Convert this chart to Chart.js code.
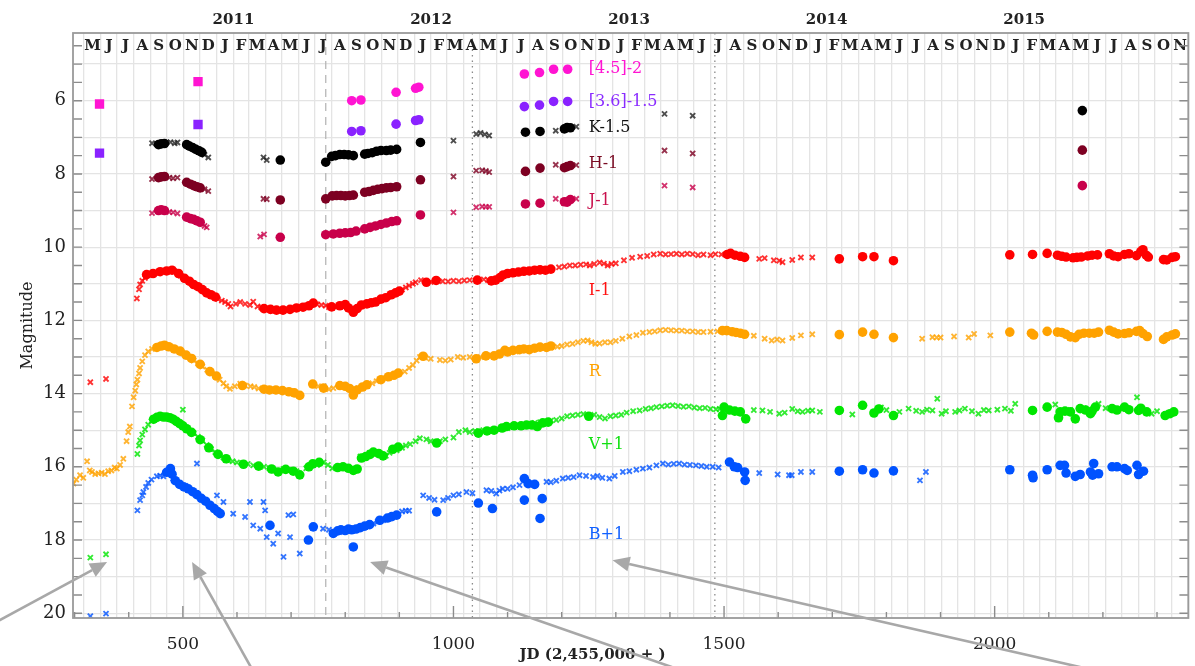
<!DOCTYPE html>
<html>
<head>
<meta charset="utf-8">
<script src="https://cdn.jsdelivr.net/npm/chart.js@4.4.1/dist/chart.umd.min.js"></script>
<style>
  html, body { margin: 0; background: #fff; }
  #wrap { width: 1195px; height: 666px; }
</style>
</head>
<body>
<div id="wrap"><canvas id="lc"></canvas></div>
<script>
// axis ranges (JD - 2,455,000 and magnitude)
const xMin = 297, xMax = 2358;
const yMin = 4.15, yMax = 20.13;
const xTickValues = [500, 1000, 1500, 2000];
const yTickLabels = [6, 8, 10, 12, 14, 16, 18, 20];
const yGridValues = [5, 6, 7, 8, 9, 10, 11, 12, 13, 14, 15, 16, 17, 18, 19, 20];
const monthLetters = ['J', 'F', 'M', 'A', 'M', 'J', 'J', 'A', 'S', 'O', 'N', 'D'];
const yearLabels = [2011, 2012, 2013, 2014, 2015];
const dashedLines = [764];
const dottedLines = [1035, 1483];

// Spitzer
const ch2Squares = [[346, 6.09], [528, 5.48]];
const ch2Dots = [[812, 6.0], [829, 5.98], [894, 5.77], [930, 5.66], [936, 5.63], [1131, 5.27], [1159, 5.23], [1185, 5.14], [1211, 5.14]];
const ch1Squares = [[346, 7.43], [528, 6.65]];
const ch1Dots = [[812, 6.84], [829, 6.82], [894, 6.64], [930, 6.54], [936, 6.52], [1131, 6.16], [1159, 6.12], [1185, 6.02], [1211, 6.02]];

// near-IR
const kCross = [[443, 7.16], [452, 7.18], [470, 7.14], [477, 7.13], [485, 7.16], [490, 7.14], [540, 7.48], [547, 7.55], [649, 7.55], [655, 7.62],
  [1000, 7.09], [1042, 6.91], [1050, 6.88], [1058, 6.92], [1066, 6.95], [1189, 6.82], [1227, 6.71], [1390, 6.36], [1442, 6.41]];
const kDots = [[455, 7.2], [460, 7.18], [466, 7.17], [507, 7.2], [512, 7.24], [518, 7.28], [524, 7.33], [530, 7.37], [535, 7.41], [680, 7.62],
  [764, 7.68], [775, 7.52], [782, 7.5], [790, 7.47], [798, 7.47], [806, 7.48], [815, 7.5], [836, 7.46], [842, 7.44], [850, 7.42], [858, 7.38],
  [866, 7.36], [876, 7.36], [884, 7.35], [895, 7.33], [939, 7.14], [1133, 6.86], [1160, 6.84], [1205, 6.77], [1210, 6.73], [1216, 6.74], [2162, 6.27]];
const hCross = [[443, 8.14], [475, 8.1], [482, 8.12], [490, 8.1], [540, 8.42], [547, 8.47], [649, 8.68], [655, 8.69],
  [1000, 8.07], [1042, 7.91], [1053, 7.9], [1060, 7.92], [1066, 7.95], [1189, 7.75], [1227, 7.76], [1390, 7.36], [1442, 7.44]];
const hDots = [[455, 8.1], [460, 8.08], [466, 8.07], [507, 8.23], [514, 8.28], [520, 8.32], [526, 8.35], [532, 8.38], [680, 8.71],
  [764, 8.68], [776, 8.6], [784, 8.59], [792, 8.59], [800, 8.6], [808, 8.59], [815, 8.58], [836, 8.5], [844, 8.48], [852, 8.45], [860, 8.42],
  [868, 8.4], [876, 8.38], [884, 8.37], [895, 8.35], [939, 8.16], [1133, 7.93], [1160, 7.84], [1205, 7.83], [1210, 7.8], [1216, 7.77], [2162, 7.35]];
const jCross = [[443, 9.07], [475, 9.04], [482, 9.05], [490, 9.08], [540, 9.42], [544, 9.46], [643, 9.71], [650, 9.65],
  [1000, 9.05], [1042, 8.91], [1053, 8.89], [1060, 8.9], [1066, 8.9], [1189, 8.68], [1227, 8.68], [1390, 8.32], [1442, 8.37]];
const jDots = [[455, 9.0], [460, 8.98], [466, 9.0], [507, 9.18], [514, 9.22], [520, 9.24], [526, 9.28], [532, 9.32], [680, 9.73],
  [764, 9.66], [778, 9.64], [790, 9.62], [800, 9.61], [810, 9.6], [820, 9.56], [836, 9.5], [846, 9.46], [856, 9.42], [866, 9.38],
  [876, 9.34], [886, 9.3], [895, 9.28], [939, 9.12], [1133, 8.82], [1160, 8.8], [1205, 8.76], [1210, 8.77], [1216, 8.7], [2162, 8.32]];

// optical
const iCross = [[329, 13.69], [358, 13.6], [415, 11.4], [419, 11.15], [421, 11.02], [425, 10.92], [430, 10.84], [438, 10.76], [450, 10.7],
  [462, 10.66], [475, 10.62], [485, 10.66], [496, 10.78], [506, 10.9], [516, 11.0], [525, 11.08], [540, 11.2], [548, 11.28], [556, 11.34],
  [565, 11.42], [572, 11.46], [578, 11.5], [584, 11.55], [588, 11.62], [598, 11.55], [606, 11.5], [615, 11.55], [624, 11.58], [630, 11.49],
  [638, 11.62], [645, 11.65], [655, 11.7], [668, 11.73], [680, 11.71], [692, 11.68], [705, 11.67], [716, 11.65], [728, 11.6], [748, 11.56],
  [756, 11.58], [764, 11.6], [770, 11.64], [782, 11.62], [796, 11.6], [835, 11.56], [860, 11.45], [870, 11.42], [880, 11.35], [905, 11.16],
  [912, 11.1], [918, 11.05], [925, 11.0], [930, 10.96], [940, 10.9], [958, 10.95], [980, 10.93], [990, 10.94], [1000, 10.92], [1010, 10.93],
  [1020, 10.91], [1030, 10.9], [1056, 10.88], [1064, 10.9], [1105, 10.74], [1195, 10.55], [1205, 10.53], [1215, 10.5], [1225, 10.5],
  [1235, 10.48], [1245, 10.47], [1252, 10.5], [1260, 10.46], [1270, 10.42], [1278, 10.45], [1285, 10.5], [1292, 10.46], [1300, 10.44],
  [1315, 10.36], [1330, 10.29], [1345, 10.26], [1358, 10.24], [1370, 10.2], [1382, 10.18], [1392, 10.2], [1402, 10.19], [1412, 10.18],
  [1422, 10.2], [1432, 10.18], [1442, 10.19], [1452, 10.22], [1462, 10.2], [1475, 10.22], [1484, 10.19], [1495, 10.2], [1565, 10.32],
  [1575, 10.3], [1592, 10.36], [1602, 10.37], [1608, 10.41], [1626, 10.35], [1642, 10.28], [1663, 10.28]];
const iDots = [[433, 10.75], [445, 10.72], [458, 10.67], [470, 10.65], [480, 10.63], [492, 10.72], [503, 10.85], [512, 10.93], [520, 11.02],
  [528, 11.08], [536, 11.16], [544, 11.25], [552, 11.3], [560, 11.36], [650, 11.68], [662, 11.7], [673, 11.72], [685, 11.72], [698, 11.7],
  [710, 11.66], [722, 11.64], [733, 11.6], [741, 11.53], [775, 11.63], [790, 11.6], [800, 11.57], [806, 11.66], [815, 11.78], [822, 11.68],
  [830, 11.58], [840, 11.55], [848, 11.52], [856, 11.5], [866, 11.42], [875, 11.38], [885, 11.3], [893, 11.25], [900, 11.2], [950, 10.96],
  [968, 10.91], [1044, 10.9], [1070, 10.92], [1078, 10.9], [1086, 10.83], [1092, 10.76], [1100, 10.72], [1110, 10.7], [1120, 10.68],
  [1130, 10.66], [1140, 10.65], [1150, 10.63], [1160, 10.62], [1170, 10.63], [1180, 10.6], [1506, 10.2], [1512, 10.17], [1520, 10.22],
  [1530, 10.25], [1538, 10.28], [1713, 10.32], [1756, 10.26], [1777, 10.26], [1813, 10.37], [2028, 10.21], [2070, 10.2], [2097, 10.17],
  [2116, 10.22], [2124, 10.25], [2132, 10.27], [2145, 10.29], [2152, 10.28], [2160, 10.27], [2172, 10.24], [2180, 10.22], [2190, 10.21],
  [2212, 10.18], [2220, 10.24], [2228, 10.26], [2240, 10.2], [2248, 10.18], [2262, 10.23], [2270, 10.12], [2274, 10.07], [2280, 10.22],
  [2284, 10.27], [2312, 10.34], [2318, 10.35], [2328, 10.28], [2334, 10.26]];

const rCross = [[298, 16.46], [303, 16.35], [310, 16.23], [316, 16.3], [323, 15.85], [328, 16.1], [332, 16.14], [338, 16.2], [344, 16.18],
  [350, 16.16], [356, 16.2], [362, 16.12], [368, 16.1], [374, 16.02], [378, 16.05], [384, 15.95], [390, 15.78], [396, 15.3], [399, 15.05],
  [402, 14.9], [406, 14.35], [409, 14.1], [412, 13.92], [414, 13.75], [416, 13.62], [419, 13.45], [421, 13.3], [425, 13.12], [430, 12.95],
  [436, 12.85], [443, 12.78], [452, 12.74], [470, 12.7], [478, 12.73], [490, 12.82], [500, 12.9], [512, 13.0], [520, 13.1], [528, 13.18],
  [536, 13.26], [545, 13.35], [553, 13.44], [560, 13.52], [568, 13.62], [575, 13.72], [580, 13.8], [587, 13.87], [596, 13.8], [606, 13.73],
  [615, 13.78], [625, 13.8], [632, 13.82], [640, 13.86], [700, 13.93], [750, 13.8], [770, 13.88], [778, 13.85], [824, 13.85], [850, 13.72],
  [858, 13.66], [875, 13.58], [910, 13.4], [918, 13.3], [925, 13.22], [932, 13.1], [938, 13.0], [948, 13.02], [958, 13.05], [975, 13.08],
  [985, 13.1], [995, 13.07], [1008, 13.0], [1018, 13.02], [1030, 13.0], [1040, 13.05], [1050, 13.0], [1060, 12.98], [1070, 12.96],
  [1115, 12.85], [1150, 12.78], [1180, 12.74], [1192, 12.72], [1200, 12.7], [1210, 12.66], [1220, 12.64], [1230, 12.6], [1240, 12.56],
  [1248, 12.55], [1255, 12.6], [1262, 12.64], [1270, 12.63], [1280, 12.6], [1290, 12.6], [1300, 12.56], [1312, 12.5], [1325, 12.44],
  [1338, 12.4], [1350, 12.34], [1362, 12.32], [1372, 12.3], [1382, 12.27], [1392, 12.26], [1402, 12.27], [1412, 12.28], [1422, 12.28],
  [1432, 12.3], [1442, 12.3], [1452, 12.32], [1462, 12.32], [1475, 12.31], [1488, 12.3], [1555, 12.42], [1575, 12.5], [1588, 12.55],
  [1598, 12.52], [1608, 12.55], [1626, 12.48], [1642, 12.41], [1663, 12.38], [1866, 12.5], [1885, 12.46], [1893, 12.47], [1900, 12.47],
  [1925, 12.44], [1952, 12.47], [1962, 12.37], [1992, 12.41]];
const rDots = [[452, 12.74], [460, 12.7], [466, 12.68], [474, 12.72], [484, 12.78], [495, 12.84], [506, 12.95], [516, 13.04], [532, 13.2],
  [550, 13.4], [562, 13.52], [610, 13.78], [650, 13.88], [660, 13.9], [672, 13.9], [684, 13.92], [696, 13.95], [706, 13.98], [716, 14.05],
  [740, 13.74], [760, 13.85], [790, 13.78], [800, 13.8], [808, 13.86], [815, 14.04], [822, 13.9], [832, 13.82], [840, 13.76], [866, 13.62],
  [880, 13.54], [890, 13.5], [898, 13.44], [944, 12.98], [1042, 13.05], [1060, 12.97], [1075, 12.97], [1085, 12.92], [1095, 12.82],
  [1100, 12.86], [1110, 12.82], [1122, 12.8], [1130, 12.78], [1140, 12.8], [1150, 12.76], [1160, 12.73], [1172, 12.74], [1180, 12.7],
  [1497, 12.28], [1505, 12.28], [1515, 12.31], [1522, 12.33], [1530, 12.35], [1538, 12.38], [1713, 12.39], [1756, 12.32], [1777, 12.38],
  [1813, 12.47], [2028, 12.32], [2068, 12.35], [2072, 12.4], [2097, 12.3], [2116, 12.32], [2124, 12.33], [2132, 12.38], [2140, 12.45],
  [2149, 12.47], [2156, 12.38], [2165, 12.35], [2175, 12.35], [2184, 12.35], [2192, 12.32], [2212, 12.27], [2220, 12.32], [2228, 12.37],
  [2240, 12.36], [2248, 12.34], [2262, 12.3], [2268, 12.28], [2274, 12.36], [2282, 12.44], [2312, 12.52], [2318, 12.45], [2328, 12.4],
  [2334, 12.37]];

const vCross = [[329, 18.48], [358, 18.39], [416, 15.65], [419, 15.42], [421, 15.28], [425, 15.12], [430, 14.98], [436, 14.85], [442, 14.75],
  [500, 14.44], [505, 14.95], [512, 15.02], [520, 15.08], [528, 15.18], [536, 15.28], [544, 15.4], [552, 15.52], [560, 15.6], [568, 15.68],
  [575, 15.75], [584, 15.82], [592, 15.85], [600, 15.88], [610, 15.9], [620, 15.92], [630, 15.96], [640, 15.98], [650, 16.0], [660, 16.04],
  [668, 16.1], [676, 16.12], [686, 16.06], [696, 16.08], [710, 16.12], [728, 16.04], [748, 15.95], [760, 15.88], [768, 15.95], [776, 16.04],
  [790, 16.0], [800, 16.02], [828, 15.72], [845, 15.62], [858, 15.62], [875, 15.7], [882, 15.62], [895, 15.55], [905, 15.48], [912, 15.42],
  [920, 15.38], [930, 15.3], [938, 15.22], [950, 15.25], [958, 15.3], [975, 15.3], [985, 15.25], [1000, 15.2], [1010, 15.05], [1022, 15.0],
  [1030, 15.05], [1040, 15.02], [1055, 15.0], [1065, 15.02], [1080, 14.97], [1090, 14.92], [1100, 14.94], [1110, 14.9], [1120, 14.86],
  [1130, 14.88], [1140, 14.84], [1150, 14.8], [1160, 14.78], [1170, 14.8], [1180, 14.74], [1190, 14.72], [1200, 14.68], [1210, 14.62],
  [1220, 14.6], [1230, 14.58], [1240, 14.56], [1250, 14.6], [1260, 14.58], [1270, 14.64], [1280, 14.68], [1290, 14.62], [1300, 14.6],
  [1310, 14.58], [1320, 14.52], [1332, 14.48], [1344, 14.46], [1355, 14.42], [1365, 14.4], [1375, 14.37], [1385, 14.35], [1395, 14.33],
  [1405, 14.32], [1415, 14.34], [1425, 14.36], [1435, 14.35], [1445, 14.38], [1455, 14.4], [1465, 14.39], [1475, 14.42], [1485, 14.43],
  [1492, 14.42], [1555, 14.45], [1571, 14.46], [1585, 14.5], [1602, 14.55], [1612, 14.52], [1626, 14.42], [1636, 14.48], [1645, 14.5],
  [1655, 14.47], [1663, 14.46], [1677, 14.5], [1737, 14.57], [1790, 14.38], [1800, 14.45], [1824, 14.5], [1841, 14.41], [1855, 14.47],
  [1866, 14.5], [1875, 14.44], [1885, 14.46], [1894, 14.14], [1902, 14.55], [1910, 14.48], [1927, 14.5], [1935, 14.46], [1945, 14.41],
  [1958, 14.48], [1970, 14.55], [1980, 14.45], [1989, 14.46], [2005, 14.44], [2019, 14.41], [2030, 14.47], [2038, 14.28], [2112, 14.3],
  [2140, 14.45], [2165, 14.4], [2192, 14.28], [2205, 14.4], [2235, 14.42], [2263, 14.1], [2290, 14.55], [2300, 14.48], [2322, 14.52]];
const vDots = [[446, 14.7], [452, 14.65], [458, 14.62], [464, 14.64], [470, 14.64], [476, 14.66], [482, 14.7], [488, 14.76], [494, 14.82],
  [500, 14.88], [507, 14.96], [516, 15.06], [532, 15.26], [548, 15.48], [565, 15.66], [580, 15.78], [612, 15.93], [640, 15.98], [664, 16.06],
  [676, 16.14], [690, 16.07], [704, 16.12], [716, 16.22], [733, 16.0], [740, 15.92], [752, 15.88], [786, 16.02], [796, 16.0], [806, 16.04],
  [815, 16.1], [822, 16.06], [830, 15.76], [838, 15.72], [846, 15.66], [852, 15.6], [862, 15.64], [870, 15.7], [888, 15.52], [898, 15.46],
  [969, 15.35], [1046, 15.08], [1062, 15.02], [1075, 15.0], [1090, 14.94], [1098, 14.9], [1112, 14.88], [1125, 14.88], [1135, 14.86],
  [1145, 14.86], [1155, 14.9], [1165, 14.8], [1175, 14.78], [1250, 14.62], [1497, 14.6], [1500, 14.37], [1510, 14.45], [1520, 14.48],
  [1530, 14.5], [1540, 14.69], [1713, 14.46], [1756, 14.32], [1777, 14.53], [1786, 14.42], [1813, 14.6], [2070, 14.46], [2097, 14.37],
  [2118, 14.66], [2121, 14.5], [2130, 14.48], [2140, 14.5], [2149, 14.69], [2158, 14.41], [2168, 14.45], [2177, 14.55], [2180, 14.48],
  [2186, 14.37], [2217, 14.41], [2226, 14.45], [2240, 14.37], [2248, 14.44], [2266, 14.46], [2270, 14.4], [2281, 14.5], [2315, 14.6],
  [2324, 14.55], [2331, 14.5]];

const bCross = [[329, 20.08], [358, 20.01], [416, 17.19], [421, 16.91], [425, 16.78], [427, 16.69], [432, 16.55], [436, 16.44], [442, 16.35],
  [452, 16.26], [458, 16.24], [464, 16.26], [482, 16.32], [488, 16.4], [495, 16.46], [500, 16.5], [505, 16.52], [526, 15.91], [544, 16.95],
  [563, 16.78], [575, 16.96], [593, 17.28], [615, 17.37], [624, 16.96], [630, 17.6], [643, 17.69], [649, 16.96], [652, 17.19], [655, 17.92],
  [667, 18.1], [676, 17.82], [686, 18.46], [695, 17.32], [704, 17.3], [698, 17.92], [716, 18.37], [759, 17.69], [770, 17.72], [796, 17.78],
  [827, 17.64], [838, 17.6], [852, 17.55], [860, 17.5], [870, 17.46], [880, 17.42], [905, 17.22], [912, 17.2], [918, 17.2], [944, 16.78],
  [955, 16.85], [965, 16.9], [981, 16.91], [990, 16.85], [1000, 16.78], [1010, 16.75], [1024, 16.69], [1035, 16.72], [1061, 16.64],
  [1070, 16.66], [1079, 16.73], [1085, 16.65], [1091, 16.6], [1100, 16.6], [1110, 16.56], [1122, 16.5], [1140, 16.48], [1147, 16.46],
  [1172, 16.41], [1180, 16.42], [1190, 16.38], [1202, 16.32], [1212, 16.3], [1222, 16.28], [1233, 16.23], [1245, 16.25], [1258, 16.28],
  [1266, 16.25], [1275, 16.3], [1288, 16.32], [1298, 16.25], [1313, 16.14], [1325, 16.12], [1338, 16.08], [1350, 16.05], [1362, 16.02],
  [1375, 15.96], [1387, 15.91], [1397, 15.94], [1407, 15.92], [1417, 15.91], [1427, 15.94], [1437, 15.95], [1448, 15.96], [1458, 15.98],
  [1468, 16.0], [1479, 16.0], [1490, 16.02], [1565, 16.17], [1599, 16.21], [1620, 16.23], [1625, 16.23], [1642, 16.14], [1663, 16.14],
  [1862, 16.37], [1873, 16.14]];
const bDots = [[470, 16.15], [477, 16.05], [480, 16.2], [486, 16.38], [494, 16.48], [502, 16.55], [510, 16.6], [518, 16.68], [526, 16.76],
  [534, 16.86], [542, 16.94], [550, 17.05], [558, 17.14], [564, 17.22], [569, 17.28], [661, 17.6], [732, 18.0], [741, 17.64], [778, 17.82],
  [786, 17.75], [792, 17.72], [800, 17.74], [806, 17.7], [812, 17.72], [815, 18.19], [820, 17.7], [828, 17.66], [836, 17.62], [845, 17.58],
  [864, 17.46], [878, 17.4], [886, 17.36], [895, 17.32], [969, 17.23], [1046, 16.99], [1072, 17.14], [1131, 16.32], [1131, 16.91],
  [1138, 16.46], [1150, 16.48], [1160, 17.41], [1164, 16.87], [1510, 15.87], [1519, 16.0], [1525, 16.02], [1538, 16.14], [1539, 16.37],
  [1713, 16.12], [1756, 16.08], [1777, 16.17], [1813, 16.11], [2028, 16.08], [2070, 16.23], [2071, 16.3], [2097, 16.08], [2121, 15.96],
  [2129, 15.96], [2132, 16.17], [2149, 16.26], [2158, 16.21], [2177, 16.14], [2181, 16.23], [2183, 15.91], [2192, 16.19], [2217, 16.0],
  [2226, 16.0], [2240, 16.05], [2245, 16.1], [2263, 15.96], [2266, 16.21], [2275, 16.12]];

// band labels: text, JD, mag, colour
const bandLabels = [
  ['[4.5]-2', 1250, 5.14, '#ff14d2'],
  ['[3.6]-1.5', 1250, 6.02, '#8a2cff'],
  ['K-1.5', 1250, 6.73, '#111111'],
  ['H-1', 1250, 7.73, '#7a0a22'],
  ['J-1', 1250, 8.73, '#c8104c'],
  ['I-1', 1250, 11.18, '#ff1010'],
  ['R', 1250, 13.41, '#ffa200'],
  ['V+1', 1250, 15.41, '#10e010'],
  ['B+1', 1250, 17.87, '#1060ff']
];

// arrows: head and tail in data units
const arrowHeads = [[360, 18.6], [517, 18.6], [846, 18.6], [1294, 18.55]];
const arrowTails = [[108, 20.62], [643, 21.93], [1491, 21.92], [2285, 21.9]];

const COL = {
  ch2: '#ff14d2', ch1: '#8a22ff', k: '#000000', h: '#7d0022', j: '#c8004a',
  i: '#ff0000', r: '#ffa200', v: '#00e600', b: '#0052ff'
};

// JD - 2,455,000 for a calendar date (JD 2455000 = 2009-06-17 12h UT)
const jdOf = (y, m, d) => (Date.UTC(y, m, d) - Date.UTC(2009, 5, 17, 12)) / 864e5;
const monthStarts = [];
const monthMids = [];
for (let y = 2010; y <= 2015; y++) {
  for (let m = 0; m < 12; m++) {
    const a = jdOf(y, m, 1), b = jdOf(y, m + 1, 1);
    if (a > xMin && a < xMax) monthStarts.push(a);
    if ((a + b) / 2 > xMin + 10 && (a + b) / 2 < xMax) monthMids.push([(a + b) / 2, monthLetters[m]]);
  }
}

const pts = (arr) => arr.map(([x, y]) => ({ x, y }));
function alpha(hex, a) {
  const n = parseInt(hex.slice(1), 16);
  return `rgba(${n >> 16},${(n >> 8) & 255},${n & 255},${a})`;
}
const crosses = (arr, c) => ({ data: pts(arr), pointStyle: 'crossRot', pointRadius: 3.6, borderWidth: 1.9, borderColor: alpha(c, 0.8), backgroundColor: 'transparent' });
const dots = (arr, c, r = 4.8) => ({ data: pts(arr), pointStyle: 'circle', pointRadius: r, borderWidth: 0, backgroundColor: c });
const squares = (arr, c) => ({ data: pts(arr), pointStyle: 'rect', pointRadius: 6.6, borderWidth: 0, backgroundColor: c });

const overlay = {
  id: 'overlay',
  beforeDatasetsDraw(chart) {
    const { ctx, chartArea: a, scales: { x } } = chart;
    ctx.save();
    ctx.lineWidth = 1.3;
    ctx.strokeStyle = '#b8b8b8';
    ctx.setLineDash([8, 6]);
    dashedLines.forEach((v) => {
      const px = x.getPixelForValue(v);
      ctx.beginPath(); ctx.moveTo(px, a.top); ctx.lineTo(px, a.bottom); ctx.stroke();
    });
    ctx.strokeStyle = '#8a8a8a';
    ctx.setLineDash([1.5, 4]);
    dottedLines.forEach((v) => {
      const px = x.getPixelForValue(v);
      ctx.beginPath(); ctx.moveTo(px, a.top); ctx.lineTo(px, a.bottom); ctx.stroke();
    });
    ctx.restore();
  },
  afterDatasetsDraw(chart) {
    const { ctx, chartArea: a, scales: { x, y } } = chart;
    ctx.save();
    ctx.textBaseline = 'middle';
    ctx.font = '16px "DejaVu Serif"';
    ctx.textAlign = 'left';
    bandLabels.forEach(([t, jd, mag, c]) => {
      ctx.fillStyle = c;
      ctx.fillText(t, x.getPixelForValue(jd), y.getPixelForValue(mag));
    });
    ctx.font = 'bold 15px "DejaVu Serif"';
    ctx.textAlign = 'center';
    ctx.fillStyle = '#222';
    monthMids.forEach(([jd, t]) => ctx.fillText(t, x.getPixelForValue(jd), a.top + 13));
    ctx.restore();
  },
  afterDraw(chart) {
    const { ctx, chartArea: a, scales: { x, y } } = chart;
    ctx.save();
    // inward ticks
    ctx.strokeStyle = '#8c8c8c';
    ctx.lineWidth = 1.4;
    ctx.beginPath();
    for (let v = 4.5; v <= 20; v += 0.5) {
      const py = y.getPixelForValue(v);
      ctx.moveTo(a.left, py); ctx.lineTo(a.left + 9, py);
      ctx.moveTo(a.right, py); ctx.lineTo(a.right - 9, py);
    }
    for (let v = 300; v <= 2300; v += 100) {
      const px = x.getPixelForValue(v);
      const len = v % 500 === 0 ? 12 : 6;
      ctx.moveTo(px, a.bottom); ctx.lineTo(px, a.bottom - len);
    }
    ctx.stroke();
    // frame
    ctx.strokeStyle = '#9a9a9a';
    ctx.lineWidth = 1.8;
    ctx.strokeRect(a.left, a.top, a.right - a.left, a.bottom - a.top);
    // years
    ctx.fillStyle = '#222';
    ctx.font = 'bold 15px "DejaVu Serif"';
    ctx.textAlign = 'center';
    ctx.textBaseline = 'middle';
    yearLabels.forEach((yr) => ctx.fillText(String(yr), x.getPixelForValue(jdOf(yr, 1, 1)), a.top - 13));
    // x title
    ctx.font = 'bold 15px "DejaVu Serif"';
    ctx.fillText('JD (2,455,000 + )', x.getPixelForValue(1257), chart.height - 11);
    // arrows
    ctx.strokeStyle = '#a8a8a8';
    ctx.fillStyle = '#a8a8a8';
    ctx.lineWidth = 2.6;
    arrowHeads.forEach(([hx, hy], k) => {
      const [tx, ty] = arrowTails[k];
      const x1 = x.getPixelForValue(hx), y1 = y.getPixelForValue(hy);
      const x0 = x.getPixelForValue(tx), y0 = y.getPixelForValue(ty);
      const ang = Math.atan2(y1 - y0, x1 - x0);
      const L = 17, W = 7.5;
      const bx = x1 - L * Math.cos(ang), by = y1 - L * Math.sin(ang);
      ctx.beginPath(); ctx.moveTo(x0, y0); ctx.lineTo(bx, by); ctx.stroke();
      ctx.beginPath();
      ctx.moveTo(x1, y1);
      ctx.lineTo(bx + W * Math.sin(ang), by - W * Math.cos(ang));
      ctx.lineTo(bx - W * Math.sin(ang), by + W * Math.cos(ang));
      ctx.closePath(); ctx.fill();
    });
    ctx.restore();
  }
};

Chart.defaults.font.family = '"DejaVu Serif", serif';

new Chart(document.getElementById('lc'), {
  type: 'scatter',
  data: {
    datasets: [
      squares(ch2Squares, COL.ch2), dots(ch2Dots, COL.ch2),
      squares(ch1Squares, COL.ch1), dots(ch1Dots, COL.ch1),
      dots(kDots, COL.k), crosses(kCross, '#222222'),
      dots(hDots, COL.h), crosses(hCross, COL.h),
      dots(jDots, COL.j), crosses(jCross, COL.j),
      dots(iDots, COL.i), crosses(iCross, COL.i),
      dots(rDots, COL.r), crosses(rCross, COL.r),
      dots(vDots, COL.v), crosses(vCross, COL.v),
      dots(bDots, COL.b), crosses(bCross, COL.b)
    ]
  },
  options: {
    responsive: true,
    maintainAspectRatio: false,
    devicePixelRatio: 1,
    animation: false,
    layout: { padding: { top: 33, right: 5, left: 0, bottom: 0 } },
    plugins: { legend: { display: false }, tooltip: { enabled: false } },
    scales: {
      x: {
        type: 'linear', position: 'bottom', min: xMin, max: xMax,
        afterBuildTicks: (s) => { s.ticks = xTickValues.map((value) => ({ value })); },
        afterFit: (s) => { s.height = 48; },
        grid: { display: false },
        border: { display: false },
        ticks: { padding: 8, color: '#222', font: { size: 17 }, maxRotation: 0, autoSkip: false, callback: (v) => String(v) }
      },
      xm: {
        type: 'linear', position: 'top', min: xMin, max: xMax,
        afterBuildTicks: (s) => { s.ticks = monthStarts.map((value) => ({ value })); },
        afterFit: (s) => { s.height = 0; },
        grid: { color: '#e4e4e4', lineWidth: 1.3, drawTicks: false },
        border: { display: false },
        ticks: { display: false }
      },
      y: {
        reverse: true, min: yMin, max: yMax,
        afterBuildTicks: (s) => { s.ticks = yGridValues.map((value) => ({ value })); },
        afterFit: (s) => { s.width = 73; },
        grid: { color: '#e4e4e4', lineWidth: 1.3, drawTicks: false },
        border: { display: false },
        ticks: { padding: 7, color: '#222', font: { size: 18 }, autoSkip: false, callback: (v) => (yTickLabels.includes(v) ? String(v) : '') },
        title: { display: true, text: 'Magnitude', color: '#222', font: { size: 16 }, padding: { top: 18, bottom: 0 } }
      }
    }
  },
  plugins: [overlay]
});
</script>
</body>
</html>
